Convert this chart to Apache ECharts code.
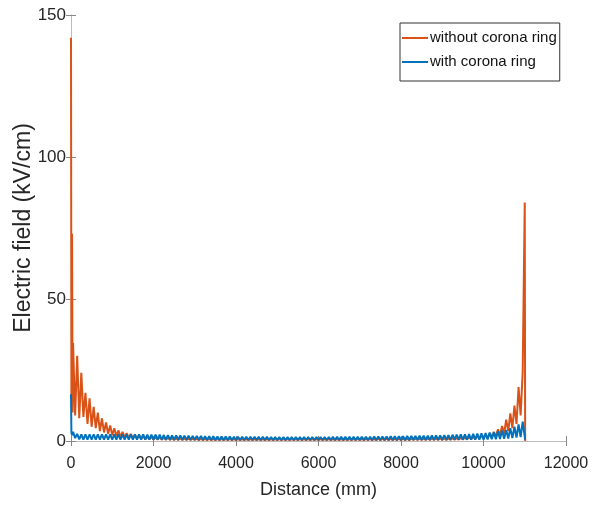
<!DOCTYPE html>
<html>
<head>
<meta charset="utf-8">
<script src="https://cdn.jsdelivr.net/npm/echarts@6/dist/echarts.min.js"></script>
<style>
html, body { margin: 0; padding: 0; background: #fff; }
#chart { width: 597px; height: 506px; }
</style>
</head>
<body>
<div id="chart"></div>
<script>
// distance along the insulator (mm)
var distance = [0, 10, 25, 40,
  50, 100, 150, 200, 250, 300, 350, 400, 450, 500, 550, 600, 650, 700, 750, 800, 850, 900, 950, 1000,
  1050, 1100, 1150, 1200, 1250, 1300, 1350, 1400, 1450, 1500, 1550, 1600, 1650, 1700, 1750, 1800, 1850, 1900, 1950, 2000,
  2050, 2100, 2150, 2200, 2250, 2300, 2350, 2400, 2450, 2500, 2550, 2600, 2650, 2700, 2750, 2800, 2850, 2900, 2950, 3000,
  3050, 3100, 3150, 3200, 3250, 3300, 3350, 3400, 3450, 3500, 3550, 3600, 3650, 3700, 3750, 3800, 3850, 3900, 3950, 4000,
  4050, 4100, 4150, 4200, 4250, 4300, 4350, 4400, 4450, 4500, 4550, 4600, 4650, 4700, 4750, 4800, 4850, 4900, 4950, 5000,
  5050, 5100, 5150, 5200, 5250, 5300, 5350, 5400, 5450, 5500, 5550, 5600, 5650, 5700, 5750, 5800, 5850, 5900, 5950, 6000,
  6050, 6100, 6150, 6200, 6250, 6300, 6350, 6400, 6450, 6500, 6550, 6600, 6650, 6700, 6750, 6800, 6850, 6900, 6950, 7000,
  7050, 7100, 7150, 7200, 7250, 7300, 7350, 7400, 7450, 7500, 7550, 7600, 7650, 7700, 7750, 7800, 7850, 7900, 7950, 8000,
  8050, 8100, 8150, 8200, 8250, 8300, 8350, 8400, 8450, 8500, 8550, 8600, 8650, 8700, 8750, 8800, 8850, 8900, 8950, 9000,
  9050, 9100, 9150, 9200, 9250, 9300, 9350, 9400, 9450, 9500, 9550, 9600, 9650, 9700, 9750, 9800, 9850, 9900, 9950, 10000,
  10050, 10100, 10150, 10200, 10250, 10300, 10350, 10400, 10450, 10500, 10550, 10600, 10650, 10700, 10750, 10800, 10850, 10900, 10950, 11000,
  11010];

// electric field (kV/cm)
var withoutRing = [142, 15, 73, 10,
  34.5, 9, 30, 8, 24, 8.5, 17, 6, 15, 5, 12, 4.5, 10, 3.5, 8, 3, 6.5, 2.5, 5.5, 2,
  4.5, 1.7, 3.8, 1.4, 3.2, 1.2, 2.8, 1, 2.5, 0.9, 2.2, 0.8, 2, 0.7, 1.8, 0.6, 1.6, 0.55, 1.5, 0.5,
  1.4, 0.5, 1.3, 0.45, 1.2, 0.45, 1.1, 0.4, 1, 0.4, 0.95, 0.4, 0.9, 0.35, 0.9, 0.35, 0.85, 0.35, 0.85, 0.35,
  0.8, 0.3, 0.8, 0.3, 0.8, 0.3, 0.8, 0.3, 0.75, 0.3, 0.75, 0.3, 0.75, 0.3, 0.75, 0.3, 0.75, 0.3, 0.7, 0.3,
  0.7, 0.3, 0.7, 0.3, 0.7, 0.3, 0.7, 0.3, 0.7, 0.3, 0.7, 0.3, 0.7, 0.3, 0.7, 0.3, 0.7, 0.3, 0.7, 0.3,
  0.7, 0.3, 0.7, 0.3, 0.7, 0.3, 0.7, 0.3, 0.7, 0.3, 0.7, 0.3, 0.7, 0.3, 0.7, 0.3, 0.7, 0.3, 0.7, 0.3,
  0.7, 0.3, 0.7, 0.3, 0.7, 0.3, 0.7, 0.3, 0.7, 0.3, 0.7, 0.3, 0.7, 0.3, 0.7, 0.3, 0.75, 0.3, 0.75, 0.3,
  0.75, 0.3, 0.75, 0.3, 0.75, 0.3, 0.75, 0.3, 0.8, 0.3, 0.8, 0.3, 0.8, 0.3, 0.8, 0.3, 0.8, 0.3, 0.8, 0.3,
  0.8, 0.3, 0.8, 0.3, 0.8, 0.35, 0.85, 0.35, 0.85, 0.35, 0.85, 0.35, 0.9, 0.4, 0.9, 0.4, 0.9, 0.4, 0.9, 0.4,
  0.95, 0.4, 0.95, 0.45, 1, 0.45, 1.05, 0.5, 1.1, 0.5, 1.2, 0.55, 1.35, 0.6, 1.5, 0.7, 1.7, 0.8, 1.9, 0.9,
  2.2, 1.1, 2.7, 1.3, 3.2, 1.6, 4.1, 2, 5.3, 2.6, 7.5, 3.5, 9.7, 4.5, 12.5, 6, 19, 9, 24.4, 84,
  0];

var withRing = [16.5, 3, 2, 1.5,
  3.2, 1, 2.5, 0.6, 2.3, 0.5, 2.3, 0.5, 2.3, 0.5, 2.3, 0.5, 2.3, 0.5, 2.3, 0.5, 2.3, 0.5, 2.3, 0.5,
  2.3, 0.5, 2.3, 0.5, 2.3, 0.5, 2.3, 0.5, 2.3, 0.5, 2.3, 0.5, 2.3, 0.5, 2.3, 0.5, 2.2, 0.5, 2.2, 0.5,
  2.2, 0.5, 2.2, 0.5, 2.1, 0.45, 2.1, 0.45, 2, 0.45, 2, 0.45, 2, 0.4, 1.9, 0.4, 1.9, 0.4, 1.8, 0.4,
  1.8, 0.4, 1.8, 0.4, 1.7, 0.4, 1.7, 0.4, 1.7, 0.35, 1.6, 0.35, 1.6, 0.35, 1.6, 0.35, 1.6, 0.35, 1.5, 0.35,
  1.5, 0.35, 1.5, 0.35, 1.5, 0.35, 1.5, 0.35, 1.45, 0.35, 1.45, 0.35, 1.45, 0.35, 1.45, 0.35, 1.4, 0.35, 1.4, 0.35,
  1.4, 0.35, 1.4, 0.35, 1.4, 0.35, 1.4, 0.35, 1.4, 0.35, 1.4, 0.35, 1.4, 0.35, 1.4, 0.35, 1.4, 0.35, 1.4, 0.35,
  1.4, 0.35, 1.4, 0.35, 1.4, 0.35, 1.45, 0.35, 1.45, 0.35, 1.45, 0.35, 1.45, 0.35, 1.5, 0.35, 1.5, 0.35, 1.5, 0.35,
  1.5, 0.35, 1.5, 0.35, 1.5, 0.35, 1.6, 0.35, 1.6, 0.35, 1.6, 0.35, 1.6, 0.35, 1.7, 0.35, 1.7, 0.35, 1.7, 0.35,
  1.7, 0.35, 1.8, 0.35, 1.8, 0.4, 1.8, 0.4, 1.9, 0.4, 1.9, 0.4, 1.9, 0.4, 2, 0.4, 2, 0.4, 2, 0.4,
  2.1, 0.4, 2.1, 0.4, 2.2, 0.45, 2.2, 0.45, 2.3, 0.45, 2.3, 0.45, 2.4, 0.5, 2.5, 0.5, 2.6, 0.5, 2.7, 0.5,
  2.8, 0.55, 3, 0.6, 3.1, 0.65, 3.4, 0.7, 3.7, 0.8, 3.9, 0.9, 4.5, 1, 5, 1.2, 5.8, 1.4, 6.8, 1.5,
  0.5];

var xTicks = [0, 2000, 4000, 6000, 8000, 10000, 12000];
var yTicks = [0, 50, 100, 150];
var seriesNames = ['without corona ring', 'with corona ring'];

function pairs(vals) {
  return distance.map(function (d, i) { return [d, vals[i]]; });
}

var font = "'Liberation Sans', Arial, sans-serif";
var boxColor = '#bcbcbc';
var textColor = '#262626';

var myChart = echarts.init(document.getElementById('chart'));
var option = {
  animation: false,
  backgroundColor: '#fff',
  grid: { left: 71, right: 31, top: 15, bottom: 65, containLabel: false, outerBoundsMode: 'none' },
  legend: {
    data: seriesNames,
    orient: 'vertical',
    left: 400,
    top: 23,
    padding: [4, 3, 8, 2],
    itemWidth: 26,
    itemHeight: 2,
    itemGap: 2,
    icon: 'rect',
    borderColor: '#333',
    borderWidth: 1,
    backgroundColor: '#fff',
    textStyle: { fontFamily: font, fontSize: 15, color: '#111', lineHeight: 22, padding: [0, 0, 0, -3] }
  },
  xAxis: [
    {
      type: 'value',
      position: 'bottom',
      min: xTicks[0],
      max: xTicks[xTicks.length - 1],
      interval: xTicks[1] - xTicks[0],
      name: 'Distance (mm)',
      nameLocation: 'middle',
      nameGap: 40,
      nameMoveOverlap: false,
      nameTextStyle: { fontFamily: font, fontSize: 18, color: textColor },
      axisLine: { show: true, lineStyle: { color: boxColor, width: 1 } },
      axisTick: { show: true, inside: true, length: 5, lineStyle: { color: '#888' } },
      axisLabel: { fontFamily: font, fontSize: 16, color: textColor, margin: 15, formatter: function (v) { return String(v); } },
      splitLine: { show: false }
    },
    {
      type: 'value',
      position: 'top',
      min: xTicks[0],
      max: xTicks[xTicks.length - 1],
      interval: xTicks[1] - xTicks[0],
      axisLine: { show: true, lineStyle: { color: boxColor, width: 1 } },
      axisTick: { show: true, inside: true, length: 5, lineStyle: { color: '#888' } },
      axisLabel: { show: false },
      splitLine: { show: false }
    }
  ],
  yAxis: [
    {
      type: 'value',
      position: 'left',
      min: yTicks[0],
      max: yTicks[yTicks.length - 1],
      interval: yTicks[1] - yTicks[0],
      name: 'Electric field (kV/cm)',
      nameLocation: 'middle',
      nameGap: 36,
      nameMoveOverlap: false,
      nameTextStyle: { fontFamily: font, fontSize: 23, color: textColor },
      axisLine: { show: false },
      axisTick: { show: true, inside: true, length: 5, lineStyle: { color: '#888' } },
      axisLabel: { fontFamily: font, fontSize: 17, color: textColor, margin: 5 },
      splitLine: { show: false }
    },
    {
      type: 'value',
      position: 'right',
      min: yTicks[0],
      max: yTicks[yTicks.length - 1],
      interval: yTicks[1] - yTicks[0],
      axisLine: { show: true, lineStyle: { color: boxColor, width: 1 } },
      axisTick: { show: true, inside: true, length: 5, lineStyle: { color: '#888' } },
      axisLabel: { show: false },
      splitLine: { show: false }
    }
  ],
  series: [
    {
      name: seriesNames[0],
      type: 'line',
      data: pairs(withoutRing),
      showSymbol: false,
      color: '#D95319',
      lineStyle: { width: 2, color: '#D95319' }
    },
    {
      name: seriesNames[1],
      type: 'line',
      data: pairs(withRing),
      showSymbol: false,
      color: '#0072BD',
      lineStyle: { width: 2, color: '#0072BD' }
    }
  ]
};
myChart.setOption(option);
</script>
</body>
</html>
